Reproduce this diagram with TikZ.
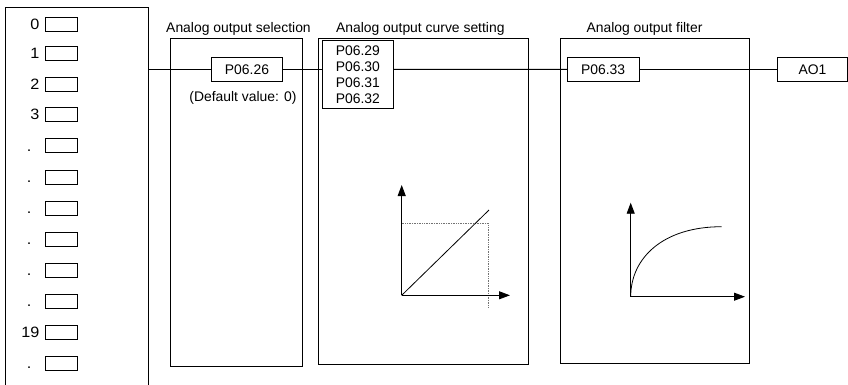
\documentclass[tikz,border=0pt]{standalone}
\usepackage{fontspec}
\setmainfont{Liberation Sans}
\newfontfamily\widefont[FakeStretch=1.08]{Liberation Sans}
\usetikzlibrary{arrows.meta}
\begin{document}
\begin{tikzpicture}[x=1pt,y=-1pt,
  txt/.style={inner sep=0pt, font=\fontsize{13.9}{16}\selectfont},
  wide/.style={inner sep=0pt, font=\widefont\fontsize{15}{17}\selectfont},
  frame/.style={draw, line width=0.9pt, inner sep=0pt},
  pbox/.style={draw, line width=0.8pt, inner sep=0pt, minimum width=71.5pt, minimum height=23.3pt, font=\fontsize{13.9}{16}\selectfont},
  slot/.style={draw, line width=0.8pt, inner sep=0pt, minimum width=32pt, minimum height=14pt},
  title/.style={txt, anchor=base},
  link/.style={line width=0.9pt},
  axis/.style={line width=0.9pt, -{Triangle[length=11pt,width=8pt]}},
  guide/.style={line width=0.7pt, densely dotted, black!55}]
\clip (0,0) rectangle (848,384);

% source list
\node[frame, minimum width=142.5pt, minimum height=387.7pt] (src) at (76.75,201.15) {};
\foreach \yy/\lab/\i in {24.7/0/0, 53/1/1, 84/2/2, 114.5/3/3, 332/19/10}{
  \node[slot] (s\i) at (61,\yy) {};
  \node[wide, anchor=east] (l\i) at ([xshift=-5pt]s\i.west) {\lab};
}
\foreach \yy/\i in {145.7/4, 177/5, 208/6, 239/7, 270/8, 301/9, 363/11}{
  \node[slot] (s\i) at (61,\yy) {};
  \node[wide, anchor=base west] (l\i) at ([xshift=-17.8pt,yshift=-5.5pt]s\i.west) {.};
}

% stage frames
\node[frame, minimum width=132.5pt, minimum height=327.3pt] (sel) at (236.25,202.35) {};
\node[frame, minimum width=210.3pt, minimum height=325.9pt] (cur) at (423.15,201.65) {};
\node[frame, minimum width=189.3pt, minimum height=324.3pt] (fil) at (654.65,200.85) {};

\node[title] (tsel) at (238.5,32.3) {Analog output selection};
\node[title] (tcur) at (420.3,32.3) {Analog output curve setting};
\node[title] (tfil) at (644.5,32.3) {Analog output filter};

% parameter boxes
\node[pbox] (p26) at (247,69.3) {P06.26};
\node[title] (dflt) at (243,101.7) {(Default value: 0)};
\node[draw, line width=0.8pt, inner sep=0pt, minimum width=71.7pt, minimum height=67.6pt,
      align=center, font=\fontsize{13.9}{16}\selectfont] (pc) at (357.85,74.5)
      {P06.29\\P06.30\\P06.31\\P06.32};
\node[pbox] (p33) at (603.15,69.35) {P06.33};
\node[pbox, minimum width=70.2pt] (ao) at (812.4,69.35) {AO1};

% signal line
\draw[link] (src.east |- p26.west) -- (p26.west);
\draw[link] (p26.east) -- (p26.east -| pc.west);
\draw[link] (pc.east |- p26.east) -- (p33.west);
\draw[link] (p33.east) -- (ao.west);

% curve setting graph
\coordinate (o1) at (401.7,295.3);
\coordinate (y1) at (401.7,185);
\coordinate (x1) at (510,295.3);
\coordinate (d1) at (489,210);
\coordinate (g1) at (488.3,223.3);
\coordinate (g2) at (488.3,308.3);
\draw[guide] (o1 |- g1) -- (g1) -- (g2);
\draw[axis] (o1) -- (y1);
\draw[axis] (o1) -- (x1);
\draw[line width=0.8pt] (o1) -- (d1);

% filter graph
\coordinate (o2) at (630.7,296.7);
\coordinate (y2) at (630.7,202.7);
\coordinate (x2) at (745,296.7);
\coordinate (e2) at (721.7,226.7);
\draw[axis] (o2) -- (y2);
\draw[axis] (o2) -- (x2);
\draw[line width=0.8pt] (o2) .. controls (630.7,258) and (663,226.7) .. (e2);
\end{tikzpicture}
\end{document}
